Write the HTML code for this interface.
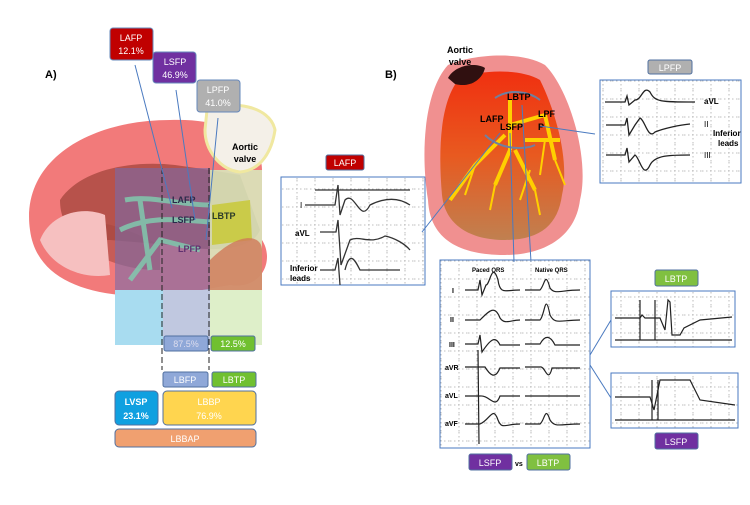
<!DOCTYPE html>
<html><head><meta charset="utf-8"><style>
body{margin:0;background:#fff;width:750px;height:500px;overflow:hidden;font-family:"Liberation Sans",sans-serif}
svg text{font-family:"Liberation Sans",sans-serif}
</style></head><body>
<svg width="750" height="500" viewBox="0 0 750 500">
<defs>
<pattern id="g" width="18" height="18" patternUnits="userSpaceOnUse"><path d="M0 9H18M9 0V18" stroke="#aaa" stroke-width="0.8" stroke-dasharray="1.5 2.5"/></pattern>
<linearGradient id="hg" x1="0" y1="0" x2="0" y2="1"><stop offset="0" stop-color="#f03010"/><stop offset="0.5" stop-color="#e85a20"/><stop offset="1" stop-color="#c08050"/></linearGradient>
</defs>
<!-- LEFT PANEL -->
<text x="45" y="78" font-size="11" font-weight="bold">A)</text>
<path d="M30 230 C20 160 90 120 170 120 C230 118 262 140 262 170 L262 240 C275 260 262 290 230 285 C200 290 160 300 120 295 C70 290 35 270 30 230Z" fill="#f27a7a"/>
<path d="M60 200 C80 170 130 160 175 165 L210 170 L240 175 L260 230 C250 255 200 250 170 245 L110 240 C80 240 60 230 60 200Z" fill="#a84840" opacity="0.8"/>
<path d="M70 230 C90 215 120 225 160 245 L160 270 C120 270 85 255 70 230Z" fill="#a84840" opacity="0.6"/>
<path d="M40 240 C50 215 80 205 105 215 L110 275 C80 280 50 265 40 240Z" fill="#f6c0c0"/>
<rect x="115" y="168" width="95" height="177" fill="#7a6aa8" opacity="0.6"/>
<rect x="115" y="290" width="50" height="55" fill="#a8dcf0"/>
<rect x="163" y="290" width="47" height="55" fill="#c0c8e0"/>
<rect x="210" y="170" width="52" height="175" fill="#d8ecc0" opacity="0.85"/>
<path d="M212 205 L250 200 L252 240 L212 245Z" fill="#c8c830" opacity="0.8"/>
<path d="M210 260 C240 230 262 235 262 250 L262 290 L210 290Z" fill="#d07858" opacity="0.8"/>
<path d="M125 200 C150 195 180 205 210 205 M120 230 C150 215 180 220 210 222 M130 280 L160 240 L200 250 M140 200 L150 270" stroke="#80d0b0" stroke-width="5" fill="none" opacity="0.8"/>
<path d="M207 110 C230 100 270 105 275 130 C272 150 262 170 240 172 C220 170 205 150 205 130Z" fill="#f4f0e8" stroke="#f0e8a0" stroke-width="3"/>
<text x="245" y="150" font-size="9" font-weight="bold" text-anchor="middle">Aortic</text>
<text x="245" y="162" font-size="9" font-weight="bold" text-anchor="middle">valve</text>
<line x1="162" y1="168" x2="162" y2="370" stroke="#222" stroke-dasharray="6 3"/>
<line x1="209" y1="168" x2="209" y2="370" stroke="#222" stroke-dasharray="6 3"/>
<text x="172" y="203" font-size="9" font-weight="bold" fill="#2a2a4a">LAFP</text>
<text x="172" y="223" font-size="9" font-weight="bold" fill="#2a2a4a">LSFP</text>
<text x="212" y="219" font-size="9" font-weight="bold" fill="#2a3a2a">LBTP</text>
<text x="178" y="252" font-size="9" font-weight="bold" fill="#603070">LPFP</text>
<g stroke="#4a7ac0" stroke-width="1" fill="none">
<line x1="135" y1="65" x2="172" y2="208"/><line x1="176" y1="90" x2="195" y2="220"/><line x1="218" y1="118" x2="206" y2="240"/>
</g>
<rect x="110" y="28" width="43" height="32" rx="3" fill="#c00000" stroke="#6688bb"/>
<text x="131" y="41" font-size="9" fill="#fff" text-anchor="middle">LAFP</text><text x="131" y="54" font-size="9" fill="#fff" text-anchor="middle">12.1%</text>
<rect x="153" y="52" width="43" height="31" rx="3" fill="#7030a0" stroke="#6688bb"/>
<text x="175" y="65" font-size="9" fill="#fff" text-anchor="middle">LSFP</text><text x="175" y="78" font-size="9" fill="#fff" text-anchor="middle">46.9%</text>
<rect x="197" y="80" width="43" height="32" rx="3" fill="#b0b0b0" stroke="#6688bb"/>
<text x="218" y="93" font-size="9" fill="#fff" text-anchor="middle">LPFP</text><text x="218" y="106" font-size="9" fill="#fff" text-anchor="middle">41.0%</text>
<rect x="164" y="336" width="44" height="15" rx="2" fill="#8fa8d8" stroke="#5070a0"/><text x="186" y="347" font-size="9" fill="#dde" text-anchor="middle">87.5%</text>
<rect x="211" y="336" width="44" height="15" rx="2" fill="#70c030" stroke="#5070a0"/><text x="233" y="347" font-size="9" fill="#fff" text-anchor="middle">12.5%</text>
<rect x="163" y="372" width="45" height="15" rx="2" fill="#8fa8d8" stroke="#5070a0"/><text x="185" y="383" font-size="9" fill="#fff" text-anchor="middle">LBFP</text>
<rect x="212" y="372" width="44" height="15" rx="2" fill="#70c030" stroke="#5070a0"/><text x="234" y="383" font-size="9" fill="#fff" text-anchor="middle">LBTP</text>
<rect x="115" y="391" width="43" height="34" rx="4" fill="#10a0e0" stroke="#5070a0"/><text x="136" y="405" font-size="9" font-weight="bold" fill="#fff" text-anchor="middle">LVSP</text><text x="136" y="419" font-size="9" font-weight="bold" fill="#fff" text-anchor="middle">23.1%</text>
<rect x="163" y="391" width="93" height="34" rx="4" fill="#ffd54f" stroke="#5070a0"/><text x="209" y="405" font-size="9" fill="#fff" text-anchor="middle">LBBP</text><text x="209" y="419" font-size="9" fill="#fff" text-anchor="middle">76.9%</text>
<rect x="115" y="429" width="141" height="18" rx="4" fill="#f0a070" stroke="#5070a0"/><text x="185" y="442" font-size="9" fill="#fff" text-anchor="middle">LBBAP</text>

<!-- MIDDLE LAFP -->
<rect x="326" y="155" width="38" height="15" rx="2" fill="#c00000" stroke="#5070a0"/><text x="345" y="166" font-size="9" fill="#fff" text-anchor="middle">LAFP</text>
<rect x="281" y="177" width="144" height="108" fill="url(#g)" stroke="#4a7ac0"/>
<g stroke="#333" fill="none" stroke-width="1.3">
<path d="M315 190H410"/><path d="M305 205H335L338 185L340 215L345 200C355 190 360 225 370 205C380 200 395 195 410 205"/>
<path d="M320 232H336L338 220L341 265L350 240C360 235 370 245 385 236C395 238 405 244 410 250"/>
<path d="M320 270H335L338 258L340 285M345 270C350 250 355 260 360 270H400"/>
</g>
<text x="300" y="208" font-size="8">I</text><text x="295" y="236" font-size="8" font-weight="bold">aVL</text>
<text x="290" y="271" font-size="8" font-weight="bold">Inferior</text><text x="290" y="281" font-size="8" font-weight="bold">leads</text>

<!-- RIGHT HEART -->
<text x="385" y="78" font-size="11" font-weight="bold">B)</text>
<path d="M448 65 C470 55 520 50 545 65 C570 90 590 160 580 200 C575 240 540 255 505 255 C460 255 430 240 428 200 C420 150 425 90 448 65Z" fill="#f09090"/>
<path d="M460 78 C480 70 520 68 540 80 C555 110 570 160 562 195 C558 225 540 240 505 240 C470 240 445 225 442 195 C438 150 440 100 460 78Z" fill="url(#hg)"/>
<path d="M448 78 C455 65 475 62 485 68 C482 80 470 88 455 84Z" fill="#301010"/>
<text x="460" y="53" font-size="9" font-weight="bold" text-anchor="middle">Aortic</text><text x="460" y="65" font-size="9" font-weight="bold" text-anchor="middle">valve</text>
<g stroke="#ffd000" stroke-width="4" fill="none">
<path d="M510 100V150M510 125L545 115M505 135L475 165L450 200M510 150L495 185M515 150L535 190M545 115L555 160M525 140L560 140"/>
</g>
<g stroke="#ffd000" stroke-width="2" fill="none">
<path d="M475 165L465 195M495 185L490 210M535 190L540 215M555 160L565 185M545 140L540 175M530 170L520 200"/>
</g>
<path d="M495 98C510 88 530 92 540 100M485 135C500 150 525 150 535 145" stroke="#7080a0" stroke-width="2" fill="none"/>
<text x="507" y="100" font-size="9" font-weight="bold">LBTP</text><text x="480" y="122" font-size="9" font-weight="bold">LAFP</text>
<text x="500" y="130" font-size="9" font-weight="bold">LSFP</text><text x="538" y="117" font-size="9" font-weight="bold">LPF</text><text x="538" y="130" font-size="9" font-weight="bold">P</text>
<g stroke="#4a7ac0" fill="none"><line x1="500" y1="133" x2="422" y2="232"/><line x1="540" y1="126" x2="595" y2="134"/><line x1="510" y1="133" x2="514" y2="262"/><line x1="522" y1="105" x2="531" y2="262"/></g>
<rect x="648" y="60" width="44" height="14" rx="2" fill="#b0b0b0" stroke="#5070a0"/><text x="670" y="71" font-size="9" fill="#fff" text-anchor="middle">LPFP</text>
<rect x="600" y="80" width="141" height="103" fill="url(#g)" stroke="#4a7ac0"/>
<g stroke="#222" fill="none" stroke-width="1.3">
<path d="M605 102H625L627 96L629 105L635 100C642 100 643 85 650 92C655 102 660 102 695 102"/>
<path d="M606 125H625L627 118L629 135L635 125L640 118C645 120 648 140 655 132C665 128 680 125 690 124"/>
<path d="M606 155H625L627 148L629 162L635 155C640 158 643 180 650 165C655 155 670 155 690 155"/>
</g>
<text x="704" y="104" font-size="8" font-weight="bold">aVL</text><text x="704" y="127" font-size="8">II</text><text x="704" y="158" font-size="8">III</text>
<text x="713" y="136" font-size="8" font-weight="bold">Inferior</text><text x="718" y="146" font-size="8" font-weight="bold">leads</text>

<!-- BIG ECG -->
<rect x="440" y="260" width="150" height="188" fill="url(#g)" stroke="#4a7ac0"/>
<text x="472" y="272" font-size="6" font-weight="bold">Paced QRS</text><text x="535" y="272" font-size="6" font-weight="bold">Native QRS</text>
<g stroke="#222" fill="none" stroke-width="1.2">
<path d="M465 290H478L480 280L482 295L486 285C490 285 492 260 498 280C500 295 505 290 520 290"/><path d="M525 290H540C545 285 545 270 550 288C555 295 560 290 580 290"/>
<path d="M465 320H480C490 310 495 305 500 318C505 325 510 320 520 320"/><path d="M525 320H540C545 315 545 290 550 315C555 325 560 320 580 320"/>
<path d="M465 344H478L480 335L482 352C490 340 495 335 500 345H520"/><path d="M525 344H540C545 335 550 335 555 345H580"/>
<path d="M465 367H485C490 375 495 380 500 368H520"/><path d="M525 367H540C545 365 548 385 552 368H580"/>
<path d="M478 350L479 444"/><path d="M465 396H480C490 395 495 410 500 396H520"/><path d="M525 396H580"/>
<path d="M465 424H480C490 420 493 405 498 420C502 430 505 424 520 424"/><path d="M525 424H540C545 420 545 405 550 420C555 428 560 424 580 424"/>
</g>
<g font-size="7" font-weight="bold"><text x="452" y="293">I</text><text x="450" y="322">II</text><text x="449" y="347">III</text><text x="445" y="370">aVR</text><text x="445" y="398">aVL</text><text x="445" y="426">aVF</text></g>
<rect x="469" y="454" width="43" height="16" rx="2" fill="#7030a0" stroke="#5070a0"/><text x="490" y="466" font-size="9" fill="#fff" text-anchor="middle">LSFP</text>
<text x="515" y="466" font-size="7" font-weight="bold">vs</text>
<rect x="527" y="454" width="43" height="16" rx="2" fill="#80c040" stroke="#5070a0"/><text x="548" y="466" font-size="9" fill="#fff" text-anchor="middle">LBTP</text>
<g stroke="#4a7ac0" fill="none"><line x1="590" y1="355" x2="611" y2="320"/><line x1="590" y1="365" x2="611" y2="398"/></g>
<rect x="655" y="270" width="43" height="16" rx="2" fill="#80c040" stroke="#5070a0"/><text x="676" y="282" font-size="9" fill="#fff" text-anchor="middle">LBTP</text>
<rect x="611" y="291" width="124" height="56" fill="url(#g)" stroke="#4a7ac0"/>
<g stroke="#222" fill="none" stroke-width="1.2"><path d="M615 318H640L642 315L645 318H660L665 330L668 300L670 302L672 335H680L684 328L700 320L732 317"/><path d="M615 340H732"/><path d="M640 300V340M655 300V340"/></g>
<rect x="611" y="373" width="127" height="55" fill="url(#g)" stroke="#4a7ac0"/>
<g stroke="#222" fill="none" stroke-width="1.2"><path d="M615 397H650L654 410L658 390L660 380H690L700 400L735 405"/><path d="M615 420H735"/><path d="M652 380V420M658 380V420"/></g>
<rect x="655" y="433" width="43" height="16" rx="2" fill="#7030a0" stroke="#5070a0"/><text x="676" y="445" font-size="9" fill="#fff" text-anchor="middle">LSFP</text>
</svg>
</body></html>
